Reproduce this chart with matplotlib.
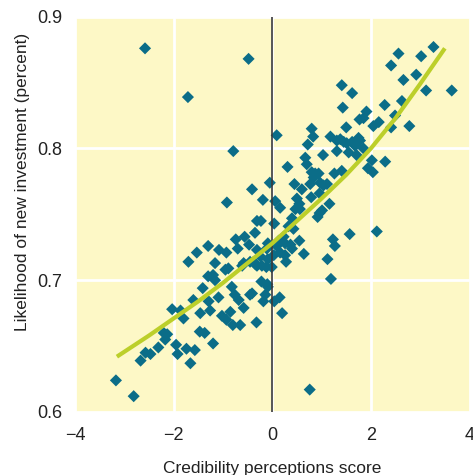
import numpy as np
import matplotlib.pyplot as plt

plt.rcParams['font.family'] = ['Liberation Sans', 'DejaVu Sans']

# scatter: credibility score vs likelihood of new investment
score = [-2.58, -0.48, -1.71, -0.79, -0.92, -0.41, -0.19, -0.05, 0.76,
         0.09, 0.80, 0.83, 0.72, 1.41, 1.62, 1.43, 1.50, 1.18, 1.31, 1.38,
         1.45, 1.51, 1.62, 1.68, 1.75, 1.78, 1.31, 1.55, 1.71, 1.85, 1.77,
         1.91, 1.85, 2.05, 2.16, 2.28, 2.41, 2.56, 2.66, 2.63, 2.49, 2.41,
         2.78, 3.02, 2.92, 3.12, 3.27, 3.64, 2.02, 2.29, 1.94, 2.04, 0.67,
         0.70, 1.03, 0.31, 0.80, 0.87, 0.94, 0.84, 1.26, 1.41, 0.97, 1.04,
         1.11, 0.77, 0.60, 0.45, 0.96, 0.79, 0.06, 0.16, 0.50, 0.55, 0.47,
         0.56, 1.16, 0.96, 1.01, 0.92, 0.40, 0.43, 0.33, 0.04, 0.23, 0.13,
         0.26, 0.37, 0.40, 0.55, 0.64, 1.23, 1.27, 1.57, 2.12, 1.12, 1.19,
         -0.11, 0.03, 0.26, 0.16, 0.28, -0.23, 0.09, -0.01, 0.15, 0.04,
         0.20, -0.32, -0.41, -0.22, -0.10, -0.14, -0.18, -0.12, -0.31, -0.38,
         -0.24, -0.31, -0.35, -0.56, -0.74, -0.70, -0.47, -0.31, -0.09,
         -1.30, -1.53, -1.08, -0.93, -1.16, -1.30, -1.16, -0.95, -0.89,
         -0.61, -0.58, -0.45, -0.34, -0.21, -0.09, -1.70, -1.41, -1.09,
         -0.82, -0.76, -0.68, -0.58, -0.45, -0.09, -1.60, -1.29, -1.26,
         -1.46, -1.02, -0.93, -0.85, -0.80, -0.65, -1.37, -1.47, -2.03,
         -1.86, -1.80, -1.20, -2.20, -2.13, -2.17, -2.31, -1.95, -1.92,
         -1.74, -1.57, -1.66, -2.57, -2.47, -2.67, -3.17, -2.81, -1.20]
likelihood = [0.876, 0.868, 0.839, 0.798, 0.759, 0.769, 0.761, 0.774, 0.617,
              0.810, 0.815, 0.809, 0.803, 0.848, 0.842, 0.831, 0.816, 0.809,
              0.806, 0.807, 0.805, 0.804, 0.805, 0.802, 0.808, 0.806, 0.798,
              0.797, 0.795, 0.800, 0.822, 0.828, 0.823, 0.817, 0.820, 0.833,
              0.863, 0.872, 0.852, 0.836, 0.825, 0.816, 0.817, 0.870, 0.856,
              0.844, 0.877, 0.844, 0.791, 0.790, 0.785, 0.782, 0.793, 0.788,
              0.795, 0.786, 0.782, 0.781, 0.781, 0.778, 0.781, 0.783, 0.774,
              0.772, 0.773, 0.773, 0.769, 0.773, 0.766, 0.763, 0.760, 0.755,
              0.762, 0.758, 0.754, 0.754, 0.758, 0.751, 0.753, 0.748, 0.747,
              0.739, 0.741, 0.743, 0.733, 0.730, 0.728, 0.727, 0.724, 0.730,
              0.720, 0.731, 0.726, 0.735, 0.737, 0.716, 0.701, 0.724, 0.719,
              0.719, 0.721, 0.714, 0.745, 0.726, 0.710, 0.687, 0.684, 0.675,
              0.668, 0.690, 0.699, 0.697, 0.689, 0.684, 0.710, 0.711, 0.714,
              0.718, 0.745, 0.736, 0.733, 0.731, 0.724, 0.727, 0.723, 0.728,
              0.726, 0.721, 0.723, 0.721, 0.713, 0.703, 0.700, 0.708, 0.709,
              0.711, 0.713, 0.714, 0.712, 0.711, 0.716, 0.714, 0.694, 0.687,
              0.695, 0.689, 0.685, 0.679, 0.689, 0.695, 0.685, 0.684, 0.677,
              0.675, 0.673, 0.670, 0.676, 0.666, 0.666, 0.660, 0.661, 0.678,
              0.677, 0.671, 0.652, 0.660, 0.659, 0.655, 0.649, 0.651, 0.644,
              0.648, 0.647, 0.637, 0.645, 0.644, 0.639, 0.624, 0.612, 0.704]

# fitted curve
fit_x = [-3.15, -2.5, -2.0, -1.5, -1.0, -0.5, 0.0, 0.5, 1.0, 1.5, 2.0, 2.5, 3.0, 3.5]
fit_y = [0.642, 0.658, 0.671, 0.684, 0.698, 0.713, 0.728, 0.745, 0.762, 0.780,
         0.800, 0.823, 0.849, 0.876]

x_ticks = [-4, -2, 0, 2, 4]
x_tick_labels = ['\u22124', '\u22122', '0', '2', '4']
y_ticks = [0.6, 0.7, 0.8, 0.9]

fig = plt.figure(figsize=(4.73, 4.75), dpi=100)
ax = fig.add_axes([75 / 473, 63 / 475, 394.5 / 473, 395.3 / 475])
ax.set_facecolor('#fdf8c6')

ax.scatter(score, likelihood, marker='D', s=38, color='#0b6d88',
           edgecolors='none', zorder=3)
ax.axvline(0, color='#3a3a3a', linewidth=1.2, zorder=4)
ax.plot(fit_x, fit_y, color='#bccf2a', linewidth=3, solid_capstyle='butt', zorder=5)

ax.set_xlim(-4, 4)
ax.set_ylim(0.6, 0.9)
ax.set_xticks(x_ticks, x_tick_labels)
ax.set_yticks(y_ticks, [f'{v:.1f}' for v in y_ticks])
ax.grid(True, color='white', linewidth=2)
ax.set_axisbelow(True)
for s in ax.spines.values():
    s.set_visible(False)
ax.tick_params(length=0, labelsize=13, colors='#222222')
ax.tick_params(axis='x', pad=11)
ax.tick_params(axis='y', pad=9)

ax.set_xlabel('Credibility perceptions score', fontsize=12.5, color='#222222')
ax.xaxis.set_label_coords(0.5, -0.124)
ax.set_ylabel('Likelihood of new investment (percent)', fontsize=12.5, color='#222222')
ax.yaxis.set_label_coords(-0.114, 0.582)

fig.savefig('out.png', dpi=100)
